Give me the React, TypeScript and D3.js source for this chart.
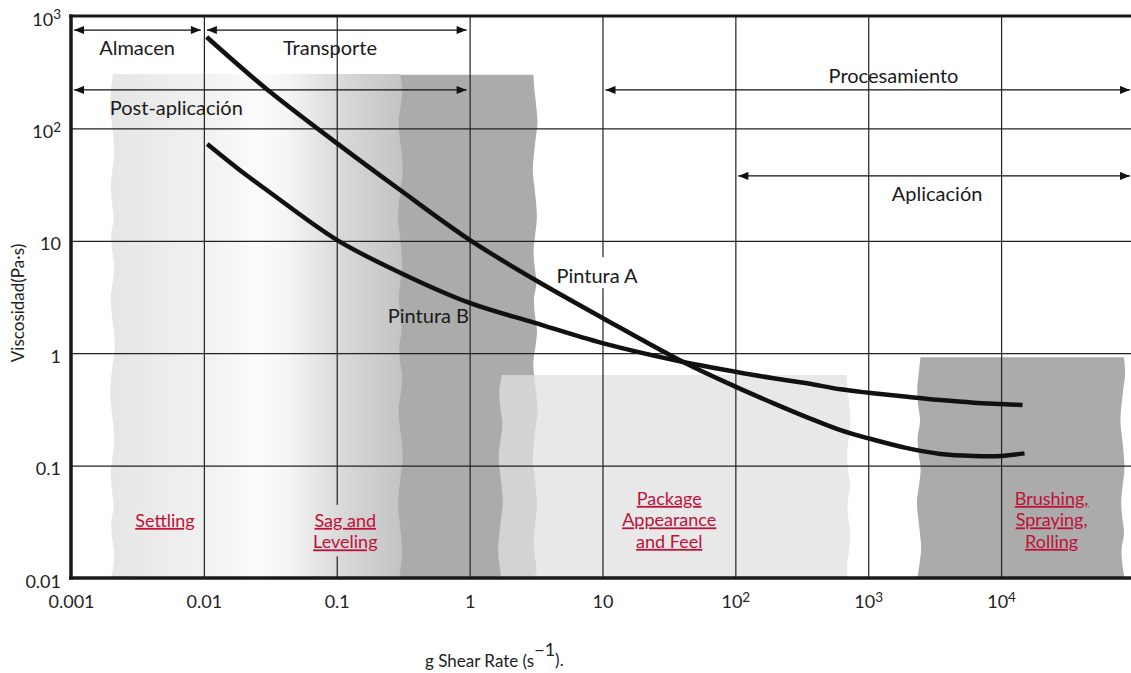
import React, { useRef, useEffect } from "react";
import * as d3 from "d3";

// Pintura A / Pintura B: shear rate (1/s) vs viscosity (Pa·s)
const shearA = [0.0105, 0.029, 0.1, 0.3, 1, 3.1, 10, 40.5, 100, 194, 347, 618, 1000, 1963, 3500, 6230, 10000, 15000];
const viscA = [650, 229, 74, 28.3, 10.2, 4.5, 2.06, 0.835, 0.504, 0.358, 0.269, 0.207, 0.175, 0.143, 0.127, 0.122, 0.122, 0.1285];

const shearB = [0.0106, 0.0188, 0.029, 0.1, 0.3, 1, 3.1, 10, 40.5, 100, 194, 347, 618, 1000, 1963, 3500, 6230, 10000, 14500];
const viscB = [72.6, 42.2, 28.9, 10.2, 5.2, 2.8, 1.86, 1.23, 0.835, 0.684, 0.598, 0.54, 0.477, 0.445, 0.41, 0.383, 0.363, 0.353, 0.346];

// shaded process regions (shear range + top viscosity)
const bandFrom = [0.00204, 0.3, 1.7, 2390];
const bandTo = [0.3, 3.1, 710, 82000];
const bandTop = [305, 300, 0.64, 0.92];

// process labels (red, underlined)
const procLabels = [["Settling"], ["Sag and", "Leveling"], ["Package", "Appearance", "and Feel"], ["Brushing,", "Spraying,", "Rolling"]];
const procAt = [0.0051, 0.116, 31.8, 24000];
const procTop = [0.0285, 0.0285, 0.0447, 0.0447];

// stage arrows
const stageNames = ["Almacen", "Transporte", "Post-aplicación", "Procesamiento", "Aplicación"];
const stageFrom = [0.001, 0.01, 0.001, 10, 100];
const stageTo = [0.01, 1, 1, 95000, 95000];
const stageLevel = [750, 750, 220, 220, 37.8];
const stageLabelAt = [0.00314, 0.089, 0.0062, 1550, 3300];
const stageLabelBelow = [true, true, true, false, true];

// curve names and where they sit
const curveNames = ["Pintura A", "Pintura B"];
const curveLabelX = [9.1, 0.49];
const curveLabelY = [4.2, 1.86];

const xTicks = [0.001, 0.01, 0.1, 1, 10, 100, 1000, 10000];
const xTickBase = ["0.001", "0.01", "0.1", "1", "10", "10", "10", "10"];
const xTickExp = ["", "", "", "", "", "2", "3", "4"];
const yTicks = [0.01, 0.1, 1, 10, 100, 1000];
const yTickBase = ["0.01", "0.1", "1", "10", "10", "10"];
const yTickExp = ["", "", "", "", "2", "3"];
const gridX = [0.01, 0.1, 1, 10, 100, 1000, 10000];
const gridY = [0.1, 1, 10, 100];

const W = 1131;
const H = 673;
const FONT = "Lato, 'Open Sans', sans-serif";
const wobble = [0, 1.6, 0.4, -1.2, -0.3, 1.1, 2, 0.6, -0.8, -1.6, -0.4, 0.9, 1.5, 0.2, -1, -0.2, 1.2, -0.7];

function bandPath(x0: number, x1: number, y0: number, y1: number, seed: number) {
  const step = 16;
  const n = Math.ceil((y1 - y0) / step);
  const edge = d3.line().curve(d3.curveCatmullRom);
  const right: [number, number][] = [];
  const left: [number, number][] = [];
  for (let i = 0; i <= n; i++) {
    const yy = Math.min(y0 + i * step, y1);
    right.push([x1 + 1.3 * wobble[(i + seed) % wobble.length], yy]);
  }
  for (let i = n; i >= 0; i--) {
    const yy = Math.min(y0 + i * step, y1);
    left.push([x0 + 1.3 * wobble[(i + seed + 7) % wobble.length], yy]);
  }
  const r = edge(right) as string;
  const l = edge(left) as string;
  return `M${left[n][0] + 3},${y0}` + "L" + r.slice(1) + "L" + l.slice(1) + "Z";
}

const App = () => {
  const svgRef = useRef<SVGSVGElement>(null);

  useEffect(() => {
    const svg = d3.select(svgRef.current);
    svg.selectAll("*").remove();

    const x = d3.scaleLog().domain([0.001, 95000]).range([71, 1131]);
    const y = d3.scaleLog().domain([0.01, 1000]).range([578, 16]);
    const bottom = y(0.01);
    const top = y(1000);

    const defs = svg.append("defs");
    const grad = defs.append("linearGradient")
      .attr("id", "settleGrad")
      .attr("gradientUnits", "userSpaceOnUse")
      .attr("x1", x(bandFrom[0])).attr("x2", x(bandTo[0]))
      .attr("y1", 0).attr("y2", 0);
    const stops: [number, string][] = [[0, "#e6e6e6"], [0.32, "#f1f1f1"], [0.5, "#fbfbfb"], [0.6, "#f6f6f6"], [0.785, "#dadada"], [1, "#c4c4c4"]];
    stops.forEach(([o, c]) => grad.append("stop").attr("offset", o).attr("stop-color", c));

    defs.append("marker")
      .attr("id", "arr")
      .attr("viewBox", "0 0 10 8")
      .attr("refX", 10).attr("refY", 4)
      .attr("markerWidth", 11).attr("markerHeight", 8)
      .attr("markerUnits", "userSpaceOnUse")
      .attr("orient", "auto-start-reverse")
      .append("path").attr("d", "M0,0L10,4L0,8Z").attr("fill", "#111");

    // bands: dark transport band first, gradient band over its left edge
    svg.append("path")
      .attr("d", bandPath(x(bandFrom[1]) - 8, x(bandTo[1]), y(bandTop[1]), bottom, 3))
      .attr("fill", "#ababab");
    svg.append("path")
      .attr("d", bandPath(x(bandFrom[0]), x(bandTo[0]), y(bandTop[0]), bottom, 0))
      .attr("fill", "url(#settleGrad)");
    svg.append("path")
      .attr("d", bandPath(x(bandFrom[2]), x(bandTo[2]), y(bandTop[2]), bottom, 9))
      .attr("fill", "rgb(224,224,224)").attr("fill-opacity", 0.75);
    svg.append("path")
      .attr("d", bandPath(x(bandFrom[3]), x(bandTo[3]), y(bandTop[3]), bottom, 5))
      .attr("fill", "#ababab");

    // grid
    const gx = svg.append("g").attr("transform", `translate(0,${bottom})`)
      .call(d3.axisBottom(x).tickValues(gridX).tickSize(-(bottom - top)).tickFormat(() => ""));
    gx.select(".domain").remove();
    gx.selectAll("line").attr("stroke", "#222").attr("stroke-width", 1.2);

    const gy = svg.append("g").attr("transform", `translate(${x(0.001)},0)`)
      .call(d3.axisLeft(y).tickValues(gridY).tickSize(-(W - x(0.001))).tickFormat(() => ""));
    gy.select(".domain").remove();
    gy.selectAll("line").attr("stroke", "#222").attr("stroke-width", 1.2);

    // frame
    svg.append("line").attr("x1", x(0.001) - 2).attr("x2", W).attr("y1", top).attr("y2", top)
      .attr("stroke", "#1a1a1a").attr("stroke-width", 3);
    svg.append("line").attr("x1", x(0.001) - 2).attr("x2", W).attr("y1", bottom).attr("y2", bottom)
      .attr("stroke", "#1a1a1a").attr("stroke-width", 3.5);
    svg.append("line").attr("x1", x(0.001)).attr("x2", x(0.001)).attr("y1", top - 1.5).attr("y2", bottom + 1.5)
      .attr("stroke", "#1a1a1a").attr("stroke-width", 3.5);

    // tick labels
    const xa = svg.append("g").attr("transform", `translate(0,${bottom})`)
      .call(d3.axisBottom(x).tickValues(xTicks).tickSize(0).tickPadding(17));
    xa.select(".domain").remove();
    xa.selectAll<SVGTextElement, number>("text").each(function (_d, i) {
      const t = d3.select(this);
      t.text(xTickBase[i]);
      if (xTickExp[i]) t.append("tspan").attr("dy", "-0.45em").attr("font-size", "0.75em").text(xTickExp[i]);
    }).attr("font-family", FONT).attr("font-size", 18).attr("fill", "#222");

    const ya = svg.append("g").attr("transform", `translate(${x(0.001)},0)`)
      .call(d3.axisLeft(y).tickValues(yTicks).tickSize(0).tickPadding(10));
    ya.select(".domain").remove();
    ya.selectAll<SVGTextElement, number>("text").each(function (_d, i) {
      const t = d3.select(this);
      t.text(yTickBase[i]);
      if (yTickExp[i]) t.append("tspan").attr("dy", "-0.45em").attr("font-size", "0.75em").text(yTickExp[i]);
    }).attr("font-family", FONT).attr("font-size", 18).attr("fill", "#222").attr("dy", "0.5em");

    // axis titles
    svg.append("text")
      .attr("transform", `translate(24,${(top + bottom) / 2 + 6}) rotate(-90)`)
      .attr("text-anchor", "middle")
      .attr("font-family", FONT).attr("font-size", 17).attr("fill", "#222")
      .text("Viscosidad(Pa·s)");
    const xt = svg.append("text")
      .attr("x", 425).attr("y", 667)
      .attr("font-family", FONT).attr("font-size", 17).attr("fill", "#222")
      .text("g Shear Rate (s");
    xt.append("tspan").attr("dy", "-0.6em").attr("font-size", 18).text("−1");
    xt.append("tspan").attr("dy", "0.6em").text(").");

    // stage arrows
    stageNames.forEach((name, i) => {
      const yy = y(stageLevel[i]);
      const x0 = x(stageFrom[i]) + 3;
      const x1 = stageTo[i] >= 95000 ? W - 1 : x(stageTo[i]) - 3;
      svg.append("line")
        .attr("x1", x0).attr("x2", x1).attr("y1", yy).attr("y2", yy)
        .attr("stroke", "#111").attr("stroke-width", 1.3)
        .attr("marker-start", "url(#arr)").attr("marker-end", "url(#arr)");
      svg.append("text")
        .attr("x", x(stageLabelAt[i]))
        .attr("y", stageLabelBelow[i] ? yy + 25 : yy - 7)
        .attr("text-anchor", "middle")
        .attr("font-family", FONT).attr("font-size", 20).attr("fill", "#1a1a1a")
        .text(name);
    });

    // process labels with a halo matching the band under them
    procLabels.forEach((lines, i) => {
      const g = svg.append("g");
      const t = g.append("text")
        .attr("text-anchor", "middle")
        .attr("font-family", FONT).attr("font-size", 18).attr("fill", "#c01038")
        .style("text-decoration", "underline");
      lines.forEach((ln, j) => {
        t.append("tspan").attr("x", x(procAt[i])).attr("y", y(procTop[i]) + j * 21.5).text(ln);
      });
      if (i < 2) {
        const bb = (t.node() as SVGTextElement).getBBox();
        g.insert("rect", "text")
          .attr("x", bb.x - 4).attr("y", bb.y - 4)
          .attr("width", bb.width + 8).attr("height", bb.height + 8)
          .attr("fill", "url(#settleGrad)");
      }
    });

    // curve labels (Pintura A gets a white halo that breaks the grid line)
    curveNames.forEach((name, i) => {
      const g = svg.append("g");
      const t = g.append("text")
        .attr("x", x(curveLabelX[i])).attr("y", y(curveLabelY[i]))
        .attr("text-anchor", "middle")
        .attr("font-family", FONT).attr("font-size", 20).attr("fill", "#1a1a1a")
        .text(name);
      if (i === 0) {
        const bb = (t.node() as SVGTextElement).getBBox();
        g.insert("rect", "text").attr("x", bb.x - 3).attr("y", bb.y - 6)
          .attr("width", bb.width + 6).attr("height", bb.height + 7).attr("fill", "#fff");
      }
    });

    // curves
    const lineA = d3.line<number>().x((_d, i) => x(shearA[i])).y(d => y(d)).curve(d3.curveCatmullRom.alpha(0.5));
    const lineB = d3.line<number>().x((_d, i) => x(shearB[i])).y(d => y(d)).curve(d3.curveCatmullRom.alpha(0.5));
    svg.append("path").attr("d", lineA(viscA)).attr("fill", "none").attr("stroke", "#111").attr("stroke-width", 4.5);
    svg.append("path").attr("d", lineB(viscB)).attr("fill", "none").attr("stroke", "#111").attr("stroke-width", 4.5);
  }, []);

  return (
    <svg
      ref={svgRef}
      width={W}
      height={H}
      style={{ position: "absolute", left: 0, top: 0, background: "#fff" }}
    />
  );
};

export default App;
